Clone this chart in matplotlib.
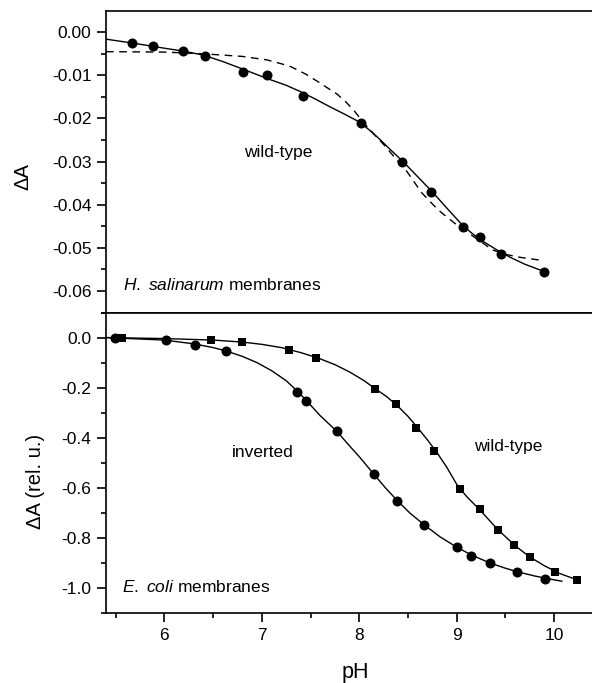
import matplotlib
matplotlib.use("Agg")
import matplotlib.pyplot as plt

plt.rcParams['font.family'] = ['Liberation Sans', 'DejaVu Sans']
plt.rcParams['mathtext.fontset'] = 'custom'
plt.rcParams['mathtext.it'] = 'Liberation Sans:italic'
plt.rcParams['mathtext.rm'] = 'Liberation Sans'

# top panel: H. salinarum membranes, wild-type
hs_ph = [5.67, 5.88, 6.19, 6.42, 6.81, 7.05, 7.42, 8.02, 8.44, 8.74, 9.07, 9.24, 9.46, 9.90]
hs_dA = [-0.0026, -0.0033, -0.0043, -0.0054, -0.0092, -0.0099, -0.0147, -0.0210,
         -0.0302, -0.0371, -0.0452, -0.0475, -0.0515, -0.0555]
hs_fit_ph = [5.40, 5.70, 6.00, 6.20, 6.40, 6.60, 6.80, 7.05, 7.25, 7.40, 7.55, 7.70,
             7.85, 8.00, 8.10, 8.20, 8.30, 8.45, 8.60, 8.75, 8.90, 9.05, 9.15, 9.25,
             9.40, 9.55, 9.70, 9.90]
hs_fit_dA = [-0.0016, -0.0026, -0.0037, -0.0044, -0.0053, -0.0068, -0.0085, -0.0107,
             -0.0123, -0.0138, -0.0155, -0.0173, -0.0190, -0.0208, -0.0226, -0.0246,
             -0.0268, -0.0300, -0.0335, -0.0370, -0.0408, -0.0445, -0.0465, -0.0482,
             -0.0503, -0.0522, -0.0538, -0.0555]
hs_dash_ph = [5.40, 6.00, 6.40, 6.80, 7.05, 7.20, 7.30, 7.45, 7.60, 7.70, 7.77, 7.86,
              7.94, 8.08, 8.25, 8.37, 8.49, 8.64, 8.81, 8.98, 9.15, 9.37, 9.50, 9.65, 9.90]
hs_dash_dA = [-0.0045, -0.0046, -0.0050, -0.0056, -0.0064, -0.0073, -0.0080, -0.0097,
              -0.0118, -0.0133, -0.0143, -0.0161, -0.0180, -0.0219, -0.0260, -0.0292,
              -0.0323, -0.0372, -0.0412, -0.0443, -0.0470, -0.0505, -0.0515, -0.0522,
              -0.0530]

# bottom panel: E. coli membranes
inv_ph = [5.49, 6.02, 6.31, 6.63, 7.36, 7.45, 7.77, 8.15, 8.39, 8.67, 9.00, 9.15, 9.34, 9.62, 9.91]
inv_dA = [0.0, -0.011, -0.031, -0.053, -0.217, -0.253, -0.374, -0.545, -0.653, -0.746,
          -0.836, -0.870, -0.901, -0.934, -0.964]
inv_fit_ph = [5.40, 6.00, 6.30, 6.50, 6.63, 6.80, 6.95, 7.10, 7.25, 7.36, 7.45, 7.60,
              7.77, 7.90, 8.00, 8.15, 8.27, 8.39, 8.52, 8.67, 8.83, 9.00, 9.15, 9.34,
              9.50, 9.62, 9.80, 9.95, 10.08]
inv_fit_dA = [0.0, -0.010, -0.025, -0.040, -0.053, -0.075, -0.100, -0.132, -0.172, -0.212,
              -0.248, -0.312, -0.374, -0.432, -0.475, -0.545, -0.600, -0.650, -0.700,
              -0.748, -0.795, -0.836, -0.867, -0.899, -0.920, -0.934, -0.951, -0.963, -0.972]

wt_ph = [5.56, 6.48, 6.80, 7.28, 7.56, 8.16, 8.38, 8.58, 8.77, 9.03, 9.24, 9.42, 9.59,
         9.75, 10.01, 10.24]
wt_dA = [0.0, -0.009, -0.017, -0.048, -0.082, -0.205, -0.266, -0.362, -0.453, -0.605,
         -0.685, -0.766, -0.828, -0.877, -0.934, -0.967]
wt_fit_ph = [5.40, 6.00, 6.50, 6.80, 7.00, 7.20, 7.40, 7.58, 7.75, 7.90, 8.05, 8.16,
             8.28, 8.40, 8.50, 8.60, 8.70, 8.80, 8.90, 9.00, 9.10, 9.24, 9.42, 9.60,
             9.75, 9.90, 10.05, 10.24]
wt_fit_dA = [0.0, -0.004, -0.010, -0.018, -0.027, -0.040, -0.060, -0.082, -0.108, -0.137,
             -0.172, -0.203, -0.235, -0.275, -0.314, -0.360, -0.408, -0.460, -0.518,
             -0.585, -0.633, -0.688, -0.765, -0.830, -0.875, -0.910, -0.940, -0.967]

fig = plt.figure(figsize=(5.92, 6.83), dpi=100)
W, H = 592.0, 683.0
left = 106 / W
width = (592 - 106) / W
ax1 = fig.add_axes([left, 1 - 312.5 / H, width, (312.5 - 10.7) / H])
ax2 = fig.add_axes([left, 1 - 613.3 / H, width, (613.3 - 312.5) / H])

xlim = (5.40, 10.39)

# top panel
ax1.plot(hs_fit_ph, hs_fit_dA, color='black', lw=1.0)
ax1.plot(hs_dash_ph, hs_dash_dA, color='black', lw=1.0, dashes=(5.5, 4))
ax1.plot(hs_ph, hs_dA, 'o', color='black', ms=7.2, mew=0)
ax1.set_xlim(*xlim)
ax1.set_ylim(-0.065, 0.005)
ax1.set_yticks([0.0, -0.01, -0.02, -0.03, -0.04, -0.05, -0.06])
ax1.set_yticklabels(['0.00', '-0.01', '-0.02', '-0.03', '-0.04', '-0.05', '-0.06'])
ax1.set_yticks([-0.005, -0.015, -0.025, -0.035, -0.045, -0.055, -0.065], minor=True)
ax1.set_xticks([6, 7, 8, 9, 10])
ax1.set_xticks([5.5, 6.5, 7.5, 8.5, 9.5], minor=True)
ax1.tick_params(axis='x', labelbottom=False)
ax1.set_ylabel('ΔA', fontsize=14.5)
ax1.yaxis.set_label_coords(-0.152, 0.45)
ax1.text(7.17, -0.0278, 'wild-type', fontsize=12.5, ha='center', va='center')
ax1.text(5.577, -0.0586, r'$\mathit{H.\ salinarum}$ membranes', fontsize=12.5,
         ha='left', va='center')

# bottom panel
ax2.plot(wt_fit_ph, wt_fit_dA, color='black', lw=1.0)
ax2.plot(inv_fit_ph, inv_fit_dA, color='black', lw=1.0)
ax2.plot(inv_ph, inv_dA, 'o', color='black', ms=7.2, mew=0)
ax2.plot(wt_ph, wt_dA, 's', color='black', ms=6.2, mew=0)
ax2.set_xlim(*xlim)
ax2.set_ylim(-1.1, 0.1)
ax2.set_yticks([0.0, -0.2, -0.4, -0.6, -0.8, -1.0])
ax2.set_yticklabels(['0.0', '-0.2', '-0.4', '-0.6', '-0.8', '-1.0'])
ax2.set_yticks([0.1, -0.1, -0.3, -0.5, -0.7, -0.9, -1.1], minor=True)
ax2.set_xticks([6, 7, 8, 9, 10])
ax2.set_xticks([5.5, 6.5, 7.5, 8.5, 9.5], minor=True)
ax2.set_ylabel('ΔA (rel. u.)', fontsize=14.5)
ax2.yaxis.set_label_coords(-0.126, 0.44)
ax2.set_xlabel('pH', fontsize=15.5)
ax2.xaxis.set_label_coords(0.512, -0.162)
ax2.text(7.01, -0.458, 'inverted', fontsize=12.5, ha='center', va='center')
ax2.text(9.53, -0.434, 'wild-type', fontsize=12.5, ha='center', va='center')
ax2.text(5.567, -0.995, r'$\mathit{E.\ coli}$ membranes', fontsize=12.5,
         ha='left', va='center')

for ax in (ax1, ax2):
    ax.spines['right'].set_visible(False)
    for s in ('left', 'top', 'bottom'):
        ax.spines[s].set_linewidth(1.2)
    ax.tick_params(which='major', direction='out', length=6.5, width=1.2,
                   labelsize=12.5, pad=4)
    ax.tick_params(which='minor', direction='out', length=3.5, width=1.2)
    ax.tick_params(axis='x', top=False)

fig.savefig('out.png', dpi=100)
